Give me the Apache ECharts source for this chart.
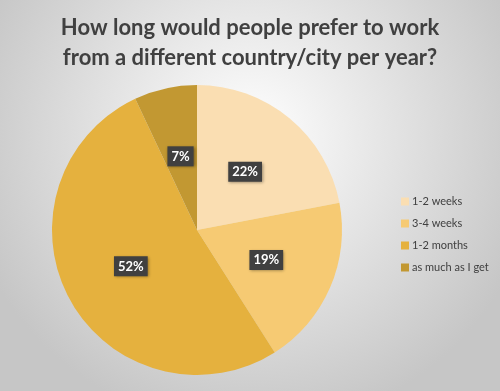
<!DOCTYPE html>
<html><head><meta charset="utf-8">
<script src="https://cdn.jsdelivr.net/npm/echarts@6/dist/echarts.min.js"></script>
<style>html,body{margin:0;padding:0;}#c{width:500px;height:391px;}</style>
</head><body><div id="c"></div>
<script>
const categories = ['1-2 weeks', '3-4 weeks', '1-2 months', 'as much as I get'];
const values = [22, 19, 52, 7];
const colors = ['#FADEB2', '#F6CA73', '#E5B13E', '#C29832'];
const titleText = 'How long would people prefer to work\nfrom a different country/city per year?';

const chart = echarts.init(document.getElementById('c'));
chart.setOption({
  backgroundColor: {
    type: 'radial', x: 0.5, y: 0.35, r: 0.75,
    colorStops: [{offset: 0, color: '#ffffff'}, {offset: 1, color: '#c6c6c6'}]
  },
  title: {
    text: titleText, left: 'center', top: 8,
    textStyle: {fontFamily: 'Lato', fontWeight: 'bold', fontSize: 22, color: '#404040', lineHeight: 30}
  },
  legend: {
    orient: 'vertical', left: 396, top: 191, itemWidth: 8, itemHeight: 8, itemGap: 11,
    icon: 'rect',
    textStyle: {fontFamily: 'Lato', fontSize: 11, color: '#404040', padding: [0, 0, 0, -2]},
    data: categories
  },
  series: [{
    type: 'pie', center: [197, 230], radius: [0, 145], startAngle: 90, clockwise: true,
    color: colors, animation: false, silent: true,
    data: categories.map((c, i) => ({name: c, value: values[i]})),
    label: {
      position: 'inside', formatter: '{c}%',
      fontFamily: 'Lato', fontWeight: 'bold', fontSize: 13, color: '#fff',
      backgroundColor: '#404040', padding: [4, 4, 3, 4],
      shadowColor: 'rgba(0,0,0,0.4)', shadowBlur: 3, shadowOffsetX: 1, shadowOffsetY: 1
    },
    labelLine: {show: false}
  }]
});
</script></body></html>
